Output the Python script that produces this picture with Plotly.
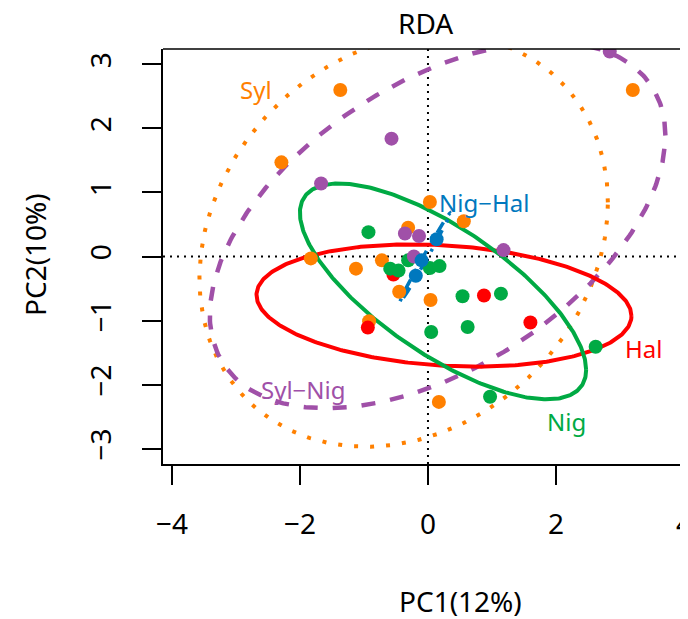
import numpy as np
import plotly.graph_objects as go

# ---------------- data ----------------
groups = ["Syl", "Hal", "Nig", "Syl\u2212Nig", "Nig\u2212Hal"]
colors = {"Syl": "#FF8000", "Hal": "#FF0000", "Nig": "#00AA44",
          "Syl\u2212Nig": "#A050A8", "Nig\u2212Hal": "#0078BE"}

syl_x = [-1.37, 3.20, -2.29, 0.03, 0.56, -0.31, -1.83, -1.125, -0.72, -0.45, 0.04, -0.92, 0.17]
syl_y = [2.60, 2.60, 1.47, 0.85, 0.55, 0.45, -0.03, -0.19, -0.06, -0.55, -0.68, -1.01, -2.27]

hal_x = [-0.54, 0.875, 1.60, -0.94]
hal_y = [-0.28, -0.61, -1.03, -1.11]

nig_x = [-0.93, -0.59, -0.46, -0.31, 0.03, 0.18, 0.54, 1.14, 0.05, 0.62, 2.62, 0.97]
nig_y = [0.38, -0.19, -0.22, -0.06, -0.18, -0.15, -0.62, -0.58, -1.18, -1.10, -1.41, -2.19]

sylnig_x = [2.84, -0.57, -1.67, -0.36, -0.14, 1.18, -0.22]
sylnig_y = [3.20, 1.84, 1.14, 0.36, 0.32, 0.10, 0.00]

nighal_x = [0.135, -0.10, -0.19]
nighal_y = [0.27, -0.06, -0.30]

# ellipse parameters: centre x, centre y, Sxx, Syy, Sxy
ell_center_x = {"Syl": -0.38, "Hal": 0.25, "Nig": 0.235, "Syl\u2212Nig": 0.15, "Nig\u2212Hal": -0.05}
ell_center_y = {"Syl": 0.25, "Hal": -0.765, "Nig": -0.545, "Syl\u2212Nig": 0.49, "Nig\u2212Hal": -0.025}
ell_sxx = {"Syl": 10.18, "Hal": 8.58, "Nig": 5.0, "Syl\u2212Nig": 12.67, "Nig\u2212Hal": 0.16}
ell_syy = {"Syl": 10.37, "Hal": 0.912, "Nig": 2.84, "Syl\u2212Nig": 8.18, "Nig\u2212Hal": 0.497}
ell_sxy = {"Syl": 1.9, "Hal": -0.48, "Nig": -2.74, "Syl\u2212Nig": 4.98, "Nig\u2212Hal": 0.2806}

# group label positions
label_x = {"Syl": -2.69, "Hal": 3.36, "Nig": 2.16, "Syl\u2212Nig": -1.95, "Nig\u2212Hal": 0.875}
label_y = {"Syl": 2.60, "Hal": -1.44, "Nig": -2.58, "Syl\u2212Nig": -2.08, "Nig\u2212Hal": 0.84}

x_ticks = [-4, -2, 0, 2, 4]
x_ticktext = ["\u22124", "\u22122", "0", "2", "4"]
y_ticks = [-3, -2, -1, 0, 1, 2, 3]
y_ticktext = ["\u22123", "\u22122", "\u22121", "0", "1", "2", "3"]

XR = [-4.14, 4.0625]
YR = [-3.24, 3.24]

FONT = "Noto Sans"

ell_dash = {"Syl": "4px,12px", "Hal": "solid", "Nig": "solid",
            "Syl\u2212Nig": "14px,15px", "Nig\u2212Hal": "3px,9px,12px,9px"}
ell_width = {"Syl": 4, "Hal": 4, "Nig": 4, "Syl\u2212Nig": 4.5, "Nig\u2212Hal": 3.5}

points = {"Syl": (syl_x, syl_y), "Hal": (hal_x, hal_y), "Nig": (nig_x, nig_y),
          "Syl\u2212Nig": (sylnig_x, sylnig_y), "Nig\u2212Hal": (nighal_x, nighal_y)}


def ellipse(g, n=400):
    t = np.linspace(0, 2 * np.pi, n)
    sxx, syy, sxy = ell_sxx[g], ell_syy[g], ell_sxy[g]
    l11 = np.sqrt(sxx)
    l21 = sxy / l11
    l22 = np.sqrt(max(syy - l21 ** 2, 1e-6))
    ex = ell_center_x[g] + l11 * np.cos(t)
    ey = ell_center_y[g] + l21 * np.cos(t) + l22 * np.sin(t)
    return ex, ey


fig = go.Figure()

# dotted zero lines
fig.add_trace(go.Scatter(x=XR, y=[0, 0], mode="lines",
                         line=dict(color="black", width=2, dash="2px,5px"),
                         hoverinfo="skip", showlegend=False))
fig.add_trace(go.Scatter(x=[0, 0], y=YR, mode="lines",
                         line=dict(color="black", width=2, dash="2px,5px"),
                         hoverinfo="skip", showlegend=False))

# ellipses
for g in ["Syl", "Syl\u2212Nig", "Hal", "Nig", "Nig\u2212Hal"]:
    ex, ey = ellipse(g)
    fig.add_trace(go.Scatter(x=ex, y=ey, mode="lines",
                             line=dict(color=colors[g], width=ell_width[g], dash=ell_dash[g]),
                             hoverinfo="skip", showlegend=False))

# points
for g in ["Syl", "Hal", "Nig", "Syl\u2212Nig", "Nig\u2212Hal"]:
    px, py = points[g]
    fig.add_trace(go.Scatter(x=px, y=py, mode="markers", name=g,
                             marker=dict(color=colors[g], size=14, line=dict(width=0)),
                             showlegend=False))

# group labels
for g in groups:
    fig.add_annotation(x=label_x[g], y=label_y[g], text=g, showarrow=False,
                       xanchor="center", yanchor="middle",
                       font=dict(family=FONT, size=24, color=colors[g]))

# titles (positions relative to the plotting area)
fig.add_annotation(x=(425 - 163) / 525, y=(464 - 23) / 415, xref="paper", yref="paper",
                   text="RDA", showarrow=False, xanchor="center", yanchor="middle",
                   font=dict(family=FONT, size=28, color="black"))
fig.add_annotation(x=(460 - 163) / 525, y=(464 - 601) / 415, xref="paper", yref="paper",
                   text="PC1(12%)", showarrow=False, xanchor="center", yanchor="middle",
                   font=dict(family=FONT, size=28, color="black"))
fig.add_annotation(x=(35 - 163) / 525, y=(464 - 255) / 415, xref="paper", yref="paper",
                   text="PC2(10%)", showarrow=False, xanchor="center", yanchor="middle",
                   textangle=-90, font=dict(family=FONT, size=28, color="black"))

# top border of the box
fig.add_shape(type="line", xref="paper", yref="paper", x0=0, x1=1, y0=1, y1=1,
              line=dict(color="black", width=1.5))

# the page body adds an 8px offset, so the figure is 8px smaller than the window
fig.update_layout(
    width=680, height=611,
    margin=dict(l=155, r=0, t=41, b=155, autoexpand=False),
    paper_bgcolor="white", plot_bgcolor="white",
    font=dict(family=FONT, color="black"),
    xaxis=dict(range=XR, tickvals=x_ticks, ticktext=x_ticktext, showgrid=False,
               zeroline=False, showline=True, linecolor="black", linewidth=1.5,
               ticks="outside", ticklen=19, tickwidth=1.5, tickcolor="black",
               tickfont=dict(family=FONT, size=28, color="black"),
               ticklabelstandoff=16, automargin=False, ticklabeloverflow="allow"),
    yaxis=dict(range=YR, tickvals=y_ticks, ticktext=y_ticktext, showgrid=False,
               zeroline=False, showline=True, linecolor="black", linewidth=1.5,
               ticks="outside", ticklen=19, tickwidth=1.5, tickcolor="black",
               tickangle=-90,
               tickfont=dict(family=FONT, size=28, color="black"),
               ticklabelstandoff=20, automargin=False, ticklabeloverflow="allow"),
)

fig.write_html("out.html")
